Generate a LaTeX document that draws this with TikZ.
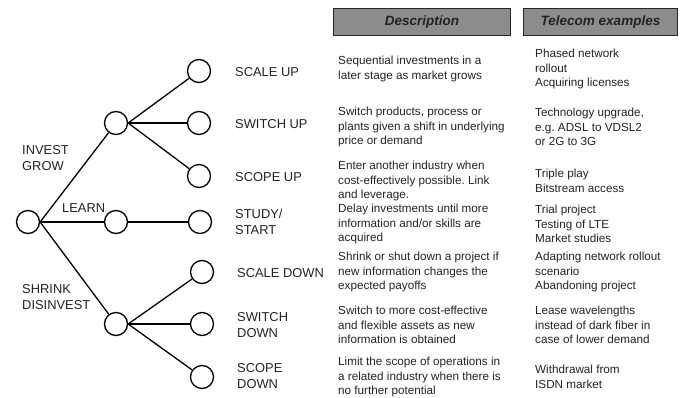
\documentclass[tikz,border=0pt]{standalone}
\usepackage{fontspec}
\setmainfont{Liberation Sans}
\frenchspacing
\definecolor{hdrfill}{RGB}{140,140,140}
\definecolor{txt}{RGB}{35,35,35}
\begin{document}
\begin{tikzpicture}[x=1pt,y=-1pt,
  opt/.style={circle,draw=black,line width=1.3pt,minimum size=23pt,inner sep=0pt,fill=white},
  conn/.style={line width=1.3pt,draw=black},
  lbl/.style={anchor=west,inner sep=0pt,align=left,text=txt,font=\fontsize{12.9}{16}\selectfont},
  desc/.style={anchor=west,inner sep=0pt,align=left,text=txt,font=\fontsize{11.7}{14.5}\selectfont},
  hdr/.style={draw=black!85,line width=0.8pt,fill=hdrfill,inner sep=0pt,text=txt,font=\fontsize{13.5}{16}\selectfont\bfseries\itshape}]
\useasboundingbox (0,0) rectangle (683,397);
% headers
\node[hdr,minimum width=177pt,minimum height=27pt] (hdesc) at (422,22) {Description};
\node[hdr,minimum width=154pt,minimum height=27pt] (htel) at (600.5,22) {Telecom examples};
% tree nodes
\node[opt] (root) at (28,222) {};
\node[opt] (inv) at (116,123) {};
\node[opt] (lrn) at (116,222) {};
\node[opt] (shr) at (116,324) {};
\node[opt] (c1) at (199,71) {};
\node[opt] (c2) at (199,123) {};
\node[opt] (c3) at (199,176) {};
\node[opt] (c4) at (200,222) {};
\node[opt] (c5) at (202,272) {};
\node[opt] (c6) at (202,324) {};
\node[opt] (c7) at (202,377) {};
% connectors
\draw[conn] (root.east) -- (inv);
\draw[conn] (root.east) -- (lrn);
\draw[conn] (root.east) -- (shr);
\draw[conn] (inv.east) -- (c1);
\draw[conn] (inv.east) -- (c2);
\draw[conn] (inv.east) -- (c3);
\draw[conn] (lrn.east) -- (c4);
\draw[conn] (shr.east) -- (c5);
\draw[conn] (shr.east) -- (c6);
\draw[conn] (shr.east) -- (c7);
% branch labels
\node[lbl] (linv) at (22,158) {INVEST\\GROW};
\node[lbl] (llrn) at (62,208) {LEARN};
\node[lbl] (lshr) at (22,297) {SHRINK\\DISINVEST};
% option labels
\node[lbl] (l1) at (235,72) {SCALE UP};
\node[lbl] (l2) at (235,124) {SWITCH UP};
\node[lbl] (l3) at (235,177) {SCOPE UP};
\node[lbl] (l4) at (235,222) {STUDY/\\START};
\node[lbl] (l5) at (237,273) {SCALE DOWN};
\node[lbl] (l6) at (237,325) {SWITCH\\DOWN};
\node[lbl] (l7) at (237,376) {SCOPE\\DOWN};
% descriptions
\node[desc] (d1) at (338,69) {Sequential investments in a\\later stage as market grows};
\node[desc] (d2) at (338,127) {Switch products, process or\\plants given a shift in underlying\\price or demand};
\node[desc] (d3) at (338,181) {Enter another industry when\\cost-effectively possible. Link\\and leverage.};
\node[desc] (d4) at (338,224) {Delay investments until more\\information and/or skills are\\acquired};
\node[desc] (d5) at (338,272) {Shrink or shut down a project if\\new information changes the\\expected payoffs};
\node[desc] (d6) at (338,325) {Switch to more cost-effective\\and flexible assets as new\\information is obtained};
\node[desc] (d7) at (338,377) {Limit the scope of operations in\\a related industry when there is\\no further potential};
% telecom examples
\node[desc] (t1) at (535,69) {Phased network\\rollout\\Acquiring licenses};
\node[desc] (t2) at (535,127) {Technology upgrade,\\e.g. ADSL to VDSL2\\or 2G to 3G};
\node[desc] (t3) at (535,181) {Triple play\\Bitstream access};
\node[desc] (t4) at (535,224) {Trial project\\Testing of LTE\\Market studies};
\node[desc] (t5) at (535,272) {Adapting network rollout\\scenario\\Abandoning project};
\node[desc] (t6) at (535,325) {Lease wavelengths\\instead of dark fiber in\\case of lower demand};
\node[desc] (t7) at (535,377) {Withdrawal from\\ISDN market};
\end{tikzpicture}
\end{document}
